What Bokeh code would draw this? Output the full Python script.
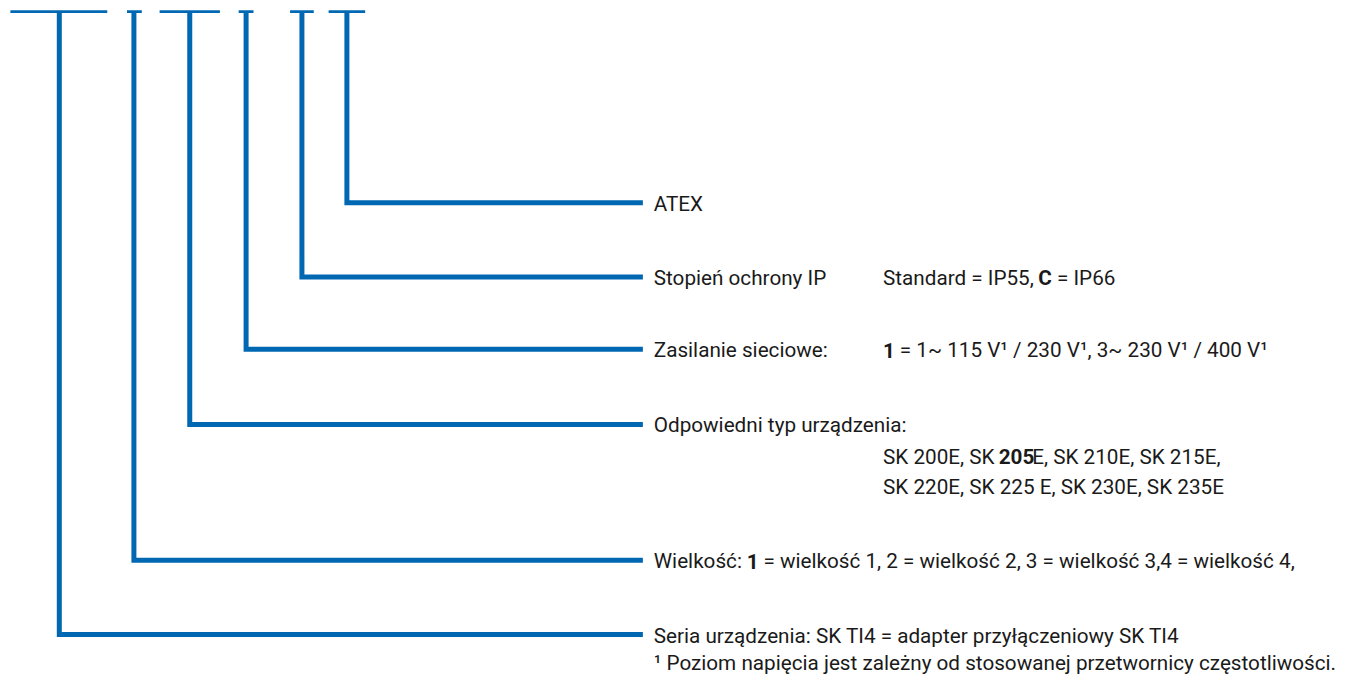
from bokeh.plotting import figure
from bokeh.models import ColumnDataSource
from bokeh.core.properties import value
from bokeh.embed import file_html
from bokeh.resources import INLINE

# ---- content (text of the type-code diagram) ----
branch_names = ["Seria", "Wielkość", "Odpowiedni typ", "Zasilanie", "Stopień IP", "ATEX"]

label_atex = ["ATEX"]
label_ip = ["Stopień ochrony IP", "Standard = IP55,", "C", "= IP66"]
label_power = ["Zasilanie sieciowe:", "1", "= 1~ 115 V¹ / 230 V¹, 3~ 230 V¹ / 400 V¹"]
label_type = ["Odpowiedni typ urządzenia:"]
label_type_list1 = ["SK 200E, SK", "205", "E, SK 210E, SK 215E,"]
label_type_list2 = ["SK 220E, SK 225 E, SK 230E, SK 235E"]
label_size = ["Wielkość:", "1", "= wielkość 1, 2 = wielkość 2, 3 = wielkość 3,4 = wielkość 4,"]
label_series = ["Seria urządzenia: SK TI4 = adapter przyłączeniowy SK TI4"]
label_note = ["¹ Poziom napięcia jest zależny od stosowanej przetwornicy częstotliwości."]

# ---- layout (reference pixel coordinates, 1365 x 695) ----
W, H = 1349, 679
BLUE = "#0068B3"
TXT = "#1a1a1a"
FONT = value("Roboto")
FS = "20.7px"
TOP_Y = 11.3
LINE_END = 650
TX = 661
TX2 = 893

vx = [59.5, 135, 191.5, 248.5, 305, 350.5]
bar_l = [10, 128, 161, 241, 293, 332]
bar_r = [108, 143, 222, 256, 317, 369]
hy = [649, 573, 434, 357, 283, 207]

p = figure(width=W, height=H, x_range=(0, 1365), y_range=(695, 0),
           output_backend="svg", toolbar_location=None, min_border=0)
p.axis.visible = False
p.grid.visible = False
p.outline_line_color = None
p.background_fill_color = "white"
p.border_fill_color = "white"

# top bars
p.segment(x0=bar_l, y0=[TOP_Y] * 6, x1=bar_r, y1=[TOP_Y] * 6,
          line_color=BLUE, line_width=2.7, line_cap="butt")

# branches: vertical down, then horizontal to the labels
xs = [[x, x, LINE_END] for x in vx]
ys = [[TOP_Y, y, y] for y in hy]
p.multi_line(xs=xs, ys=ys, line_color=BLUE, line_width=5,
             line_join="miter", line_cap="butt")

# text segments: (text, x, row_y, bold)
DY = 1
segs = []
segs.append((label_atex[0], TX, hy[5], False))
segs += [(label_ip[0], TX, hy[4], False), (label_ip[1], TX2, hy[4], False),
         (label_ip[2], 1050, hy[4], True), (label_ip[3], 1069, hy[4], False)]
segs += [(label_power[0], TX, hy[3], False), (label_power[1], TX2, hy[3], True),
         (label_power[2], 910, hy[3], False)]
segs.append((label_type[0], TX, hy[2], False))
segs += [(label_type_list1[0], TX2, 466, False), (label_type_list1[1], 1010, 466, True),
         (label_type_list1[2], 1044, 466, False)]
segs.append((label_type_list2[0], TX2, 497, False))
segs += [(label_size[0], TX, hy[1], False), (label_size[1], 755, hy[1], True),
         (label_size[2], 772, hy[1], False)]
segs.append((label_series[0], TX, hy[0], False))
segs.append((label_note[0], TX, 677, False))

for bold in (False, True):
    sel = [s for s in segs if s[3] == bold]
    src = ColumnDataSource(dict(x=[s[1] for s in sel], y=[s[2] + DY for s in sel],
                                t=[s[0] for s in sel]))
    p.text(x="x", y="y", text="t", source=src, text_font=FONT, text_font_size=FS,
           text_color=TXT, text_baseline="middle", text_align="left",
           text_font_style="bold" if bold else "normal")

open("out.html", "w").write(file_html(p, INLINE))
